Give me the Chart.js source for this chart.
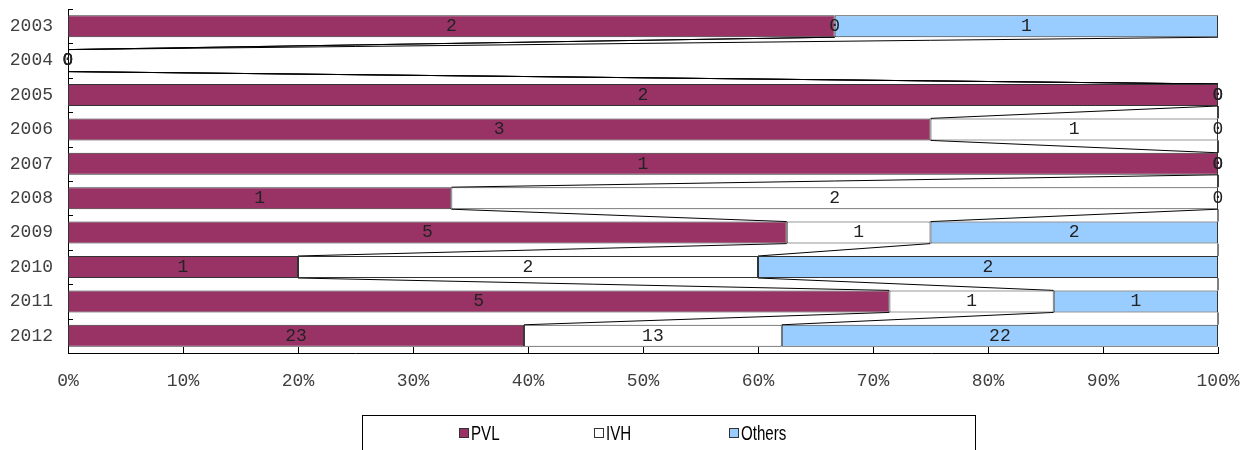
<!DOCTYPE html>
<html>
<head>
<meta charset="utf-8">
<script src="https://cdn.jsdelivr.net/npm/chart.js@4/dist/chart.umd.min.js"></script>
<style>
  html, body { margin: 0; padding: 0; background: #fff; }
  #wrap { width: 1254px; height: 450px; position: relative; }
</style>
</head>
<body>
<div id="wrap"><canvas id="chart"></canvas></div>
<script>
// data (counts per year)
const years = ['2003', '2004', '2005', '2006', '2007', '2008', '2009', '2010', '2011', '2012'];
const pvl    = [2, 0, 2, 3, 1, 1, 5, 1, 5, 23];
const ivh    = [0, 0, 0, 1, 0, 2, 1, 2, 1, 13];
const others = [1, 0, 0, 0, 0, 0, 2, 2, 1, 22];
const xTicks = [0, 10, 20, 30, 40, 50, 60, 70, 80, 90, 100];

const seriesNames = ['PVL', 'IVH', 'Others'];
const seriesColors = ['#993366', '#ffffff', '#99ccff'];
const counts = [pvl, ivh, others];

const totals = years.map((y, i) => pvl[i] + ivh[i] + others[i]);
function toPct(arr) {
  return arr.map((v, i) => totals[i] ? v / totals[i] * 100 : 0);
}

const MONO = '"Liberation Mono", "DejaVu Sans Mono", monospace';

// inside tick marks + series lines + value labels + boxed legend
const extras = {
  id: 'extras',
  beforeDatasetsDraw(chart) {
    const ctx = chart.ctx;
    ctx.save();
    ctx.strokeStyle = '#000';
    ctx.lineWidth = 1;
    chart.data.datasets.forEach((ds, di) => {
      const els = chart.getDatasetMeta(di).data;
      for (let i = 0; i < els.length - 1; i++) {
        const a = els[i], b = els[i + 1];
        ctx.beginPath();
        ctx.moveTo(a.x, a.y + a.height / 2);
        ctx.lineTo(b.x, b.y - b.height / 2);
        ctx.stroke();
      }
    });
    ctx.restore();
  },
  afterDatasetsDraw(chart) {
    const ctx = chart.ctx;
    const area = chart.chartArea;
    const xs = chart.scales.x;
    ctx.save();
    // ticks inside the plot
    ctx.strokeStyle = '#000';
    ctx.lineWidth = 1;
    xTicks.forEach(t => {
      const px = Math.round(xs.getPixelForValue(t)) + 0.5;
      ctx.beginPath();
      ctx.moveTo(px, area.bottom);
      ctx.lineTo(px, area.bottom - 6);
      ctx.stroke();
    });
    const band = (area.bottom - area.top) / years.length;
    for (let i = 0; i <= years.length; i++) {
      const py = Math.round(area.top + band * i) + 0.5;
      ctx.beginPath();
      ctx.moveTo(area.left, py);
      ctx.lineTo(area.left + 5, py);
      ctx.stroke();
    }
    // value labels
    ctx.font = '18px ' + MONO;
    ctx.fillStyle = '#222';
    ctx.textAlign = 'center';
    ctx.textBaseline = 'middle';
    chart.data.datasets.forEach((ds, di) => {
      chart.getDatasetMeta(di).data.forEach((el, i) => {
        const cx = (el.x + el.base) / 2;
        ctx.fillText(String(counts[di][i]), cx, el.y);
      });
    });
    ctx.restore();
  },
  afterDraw(chart) {
    const ctx = chart.ctx;
    ctx.save();
    ctx.strokeStyle = '#000';
    ctx.lineWidth = 1;
    ctx.strokeRect(362.5, 415.5, 613, 60);
    const itemX = [459, 594, 729];
    ctx.font = '21px "Liberation Sans", Arial, sans-serif';
    ctx.textBaseline = 'middle';
    ctx.textAlign = 'left';
    seriesNames.forEach((name, i) => {
      ctx.fillStyle = seriesColors[i];
      ctx.fillRect(itemX[i] + 0.5, 428.5, 9, 9);
      ctx.strokeStyle = '#333';
      ctx.strokeRect(itemX[i] + 0.5, 428.5, 9, 9);
      ctx.fillStyle = '#000';
      ctx.save();
      ctx.translate(itemX[i] + 12, 434);
      ctx.scale(0.72, 1);
      ctx.fillText(name, 0, 0);
      ctx.restore();
    });
    ctx.restore();
  }
};

new Chart(document.getElementById('chart'), {
  type: 'bar',
  data: {
    labels: years,
    datasets: seriesNames.map((name, i) => ({
      label: name,
      data: toPct(counts[i]),
      backgroundColor: seriesColors[i],
      borderColor: '#333',
      borderWidth: 1,
      borderSkipped: false,
      barPercentage: 0.64,
      categoryPercentage: 1
    }))
  },
  options: {
    indexAxis: 'y',
    responsive: true,
    maintainAspectRatio: false,
    animation: false,
    layout: { padding: { top: 9, right: 36, left: 0, bottom: 0 } },
    plugins: {
      legend: { display: false },
      tooltip: { enabled: false }
    },
    scales: {
      x: {
        stacked: true,
        min: 0,
        max: 100,
        afterFit(scale) {
          scale.height = 97;
          scale.paddingLeft = 0;
          scale.paddingRight = 0;
        },
        afterBuildTicks(scale) { scale.ticks = xTicks.map(v => ({ value: v })); },
        grid: { display: false, drawTicks: false },
        border: { display: true, color: '#000', width: 1 },
        ticks: {
          padding: 17,
          maxRotation: 0,
          color: '#404040',
          font: { family: MONO, size: 18 },
          callback: v => v + '%'
        }
      },
      y: {
        stacked: true,
        afterFit(scale) {
          scale.width = 68;
          scale.paddingTop = 0;
          scale.paddingBottom = 0;
        },
        grid: { display: false, drawTicks: false },
        border: { display: true, color: '#000', width: 1 },
        ticks: {
          padding: 15,
          color: '#404040',
          font: { family: MONO, size: 18 }
        }
      }
    }
  },
  plugins: [extras]
});
</script>
</body>
</html>
